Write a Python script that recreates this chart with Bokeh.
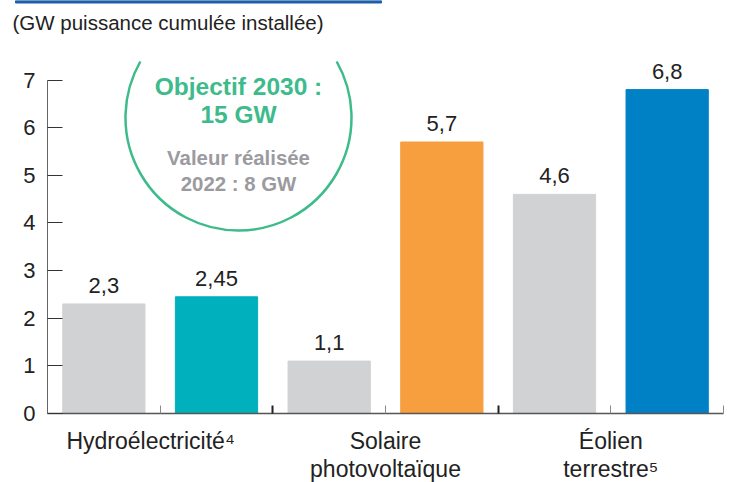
import math
from bokeh.plotting import figure
from bokeh.models import ColumnDataSource, FixedTicker, Range1d, LinearAxis
from bokeh.layouts import column
from bokeh.core.properties import value
from bokeh.embed import file_html
from bokeh.resources import INLINE

# ---------------- data ----------------
categories = ["Hydroélectricité⁴\u00a0\u00a0\u00a0", "Solaire\nphotovoltaïque", "Éolien\nterrestre⁵"]
realise_2022 = [2.3, 1.1, 4.6]
objectif = [2.45, 5.7, 6.8]
y_ticks = [0, 1, 2, 3, 4, 5, 6, 7]
title_text = "(GW puissance cumulée installée)"
circle_lines_green = ["Objectif 2030 :", "15 GW"]
circle_lines_gray = ["Valeur réalisée", "2022 : 8 GW"]

# ---------------- styles ----------------
FONT = "Liberation Sans"
GRAY_BAR = "#D1D2D4"
TARGET_COLORS = ["#00B0BD", "#F79F3F", "#0080C5"]
GREEN = "#3DBB8A"
GRAY_TXT = "#9B9B9F"
TXT = "#222222"
RULE = "#1F5FA8"

W = 733
HEADER_H = 40          # page y where the chart frame starts
BASE_Y = 413           # page y of the value 0 baseline
PX_PER_UNIT = 47.63
FRAME_L, FRAME_W = 47, 676
FRAME_H = BASE_Y - HEADER_H
Y_MAX = FRAME_H / PX_PER_UNIT
X_MAX = 6

def dx(px):  # page px -> data x (main plot)
    return (px - FRAME_L) / FRAME_W * X_MAX

def dy(py):  # page px -> data y (main plot)
    return (BASE_Y - py) / PX_PER_UNIT

# ---------------- header strip (rule + unit title) ----------------
hdr = figure(frame_width=W, frame_height=HEADER_H, x_range=Range1d(0, W), y_range=Range1d(HEADER_H, 0),
             output_backend="svg", toolbar_location=None, min_border=0,
             x_axis_type=None, y_axis_type=None)
hdr.frame_align = False
hdr.outline_line_color = None
hdr.xgrid.visible = False
hdr.ygrid.visible = False
hdr.quad(left=[15], right=[381], top=[0], bottom=[2.5], color=RULE)
hdr.text(x=[12], y=[22], text=[title_text], text_align="left", text_baseline="middle",
         text_font=value(FONT), text_font_size="20.5px", text_color=TXT)

# ---------------- main chart ----------------
xs, tops, colors, labels = [], [], [], []
for i, (a, b) in enumerate(zip(realise_2022, objectif)):
    xs += [2 * i + 0.5, 2 * i + 1.5]
    tops += [a, b]
    colors += [GRAY_BAR, TARGET_COLORS[i]]
    labels += [f"{a}".replace(".", ","), f"{b}".replace(".", ",")]
src = ColumnDataSource(dict(x=xs, top=tops, color=colors, label=labels))

p = figure(frame_width=FRAME_W, frame_height=FRAME_H,
           x_range=Range1d(0, X_MAX), y_range=Range1d(0, Y_MAX),
           output_backend="svg", toolbar_location=None,
           min_border_left=FRAME_L, min_border_top=0,
           min_border_right=W - FRAME_L - FRAME_W, min_border_bottom=482 - BASE_Y,
           x_axis_type=None, y_axis_type=None)
p.frame_align = False
p.outline_line_color = None
p.xgrid.visible = False
p.ygrid.visible = False

p.vbar(x="x", top="top", width=0.73, color="color", source=src)
p.text(x="x", y="top", text="label", source=src, y_offset=-18.5,
       text_align="center", text_baseline="middle",
       text_font=value(FONT), text_font_size="22px", text_color=TXT)

# y axis
yax = LinearAxis(ticker=FixedTicker(ticks=y_ticks, minor_ticks=[]), bounds=(0, 7))
yax.major_tick_in = 15
yax.major_tick_out = 0
yax.minor_tick_in = 0
yax.minor_tick_out = 0
yax.major_tick_line_color = "#333333"
yax.axis_line_color = "#666666"
yax.major_label_standoff = 12
yax.major_label_text_font = FONT
yax.major_label_text_font_size = "22px"
yax.major_label_text_color = TXT
p.add_layout(yax, "left")

# x axis
cat_pos = [2 * i + 1 for i in range(len(categories))]
xax = LinearAxis(ticker=FixedTicker(ticks=cat_pos + [X_MAX],
                                    minor_ticks=[2 * i for i in range(1, len(categories))]))
overrides = {c: t for c, t in zip(cat_pos, categories)}
overrides[X_MAX] = ""
xax.major_label_overrides = overrides
xax.major_tick_in = 8
xax.major_tick_out = 0
xax.major_tick_line_color = "#8A8A8A"
xax.minor_tick_in = 8
xax.minor_tick_out = 0
xax.minor_tick_line_color = "#222222"
xax.minor_tick_line_width = 2
xax.axis_line_color = "#555555"
xax.axis_line_width = 1.5
xax.major_label_standoff = 14
xax.major_label_text_font = FONT
xax.major_label_text_font_size = "23px"
xax.major_label_text_line_height = 1.1
xax.major_label_text_color = TXT
p.add_layout(xax, "below")

# circle annotation (objective) - open at the top where the reference crops it
CIRC_CX, CIRC_CY, CIRC_R, CROP_Y = 238, 117, 113, 61
phi = math.acos((CIRC_CY - CROP_Y) / CIRC_R)
cx, cy = dx(CIRC_CX), dy(CIRC_CY)
p.arc(x=[cx], y=[cy], radius=CIRC_R / FRAME_W * X_MAX,
      start_angle=math.pi / 2 + phi, end_angle=math.pi / 2 - phi, direction="anticlock",
      line_color=GREEN, line_width=2.5)
for txt, py in zip(circle_lines_green, [86.3, 114]):
    p.text(x=[cx], y=[dy(py)], text=[txt], text_align="center", text_baseline="middle",
           text_font=value(FONT), text_font_style="bold", text_font_size="24.5px", text_color=GREEN)
for txt, py in zip(circle_lines_gray, [157.5, 183]):
    p.text(x=[cx], y=[dy(py)], text=[txt], text_align="center", text_baseline="middle",
           text_font=value(FONT), text_font_style="bold", text_font_size="20.4px", text_color=GRAY_TXT)

layout = column(hdr, p, spacing=0)
open("out.html", "w").write(file_html(layout, INLINE))
